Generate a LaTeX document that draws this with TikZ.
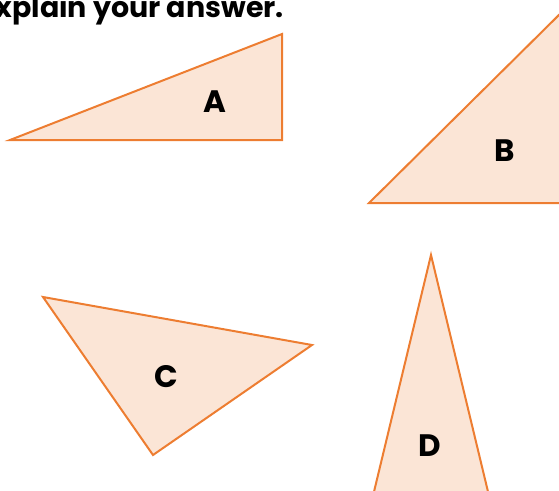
\documentclass[tikz,border=0pt]{standalone}
\usepackage{fontspec}
\setmainfont{Poppins}
\definecolor{tri}{HTML}{ED7D31}
\definecolor{trifill}{HTML}{FBE5D6}
\begin{document}
\begin{tikzpicture}[x=1pt,y=-1pt,
  shape tri/.style={draw=tri,fill=trifill,line width=2pt,line join=miter},
  lbl/.style={font=\fontsize{31}{33}\selectfont\bfseries,text=black,inner sep=0pt}]
\useasboundingbox (0,0) rectangle (559,490);
\clip (0,0) rectangle (559,490);
\node[anchor=base east,inner sep=0pt,font=\fontsize{28.5}{30}\selectfont\bfseries] (title) at (284,17) {Explain your answer.};
% A
\coordinate (a1) at (10,140);
\coordinate (a2) at (282,34);
\coordinate (a3) at (282,140);
\draw[shape tri] (a1) -- (a2) -- (a3) -- cycle;
\node[lbl] (la) at (215,102) {A};
% B
\coordinate (b1) at (369,203);
\coordinate (b2) at (569,5);
\coordinate (b3) at (569,203);
\draw[shape tri] (b1) -- (b2) -- (b3) -- cycle;
\node[lbl] (lb) at (505,151) {B};
% C
\coordinate (c1) at (43,297);
\coordinate (c2) at (312,345);
\coordinate (c3) at (153,455);
\draw[shape tri] (c1) -- (c2) -- (c3) -- cycle;
\node[lbl] (lc) at (166,377) {C};
% D
\coordinate (d1) at (431,255);
\coordinate (d2) at (490,500);
\coordinate (d3) at (372,500);
\draw[shape tri] (d1) -- (d2) -- (d3) -- cycle;
\node[lbl] (ld) at (430,446) {D};
\end{tikzpicture}
\end{document}
